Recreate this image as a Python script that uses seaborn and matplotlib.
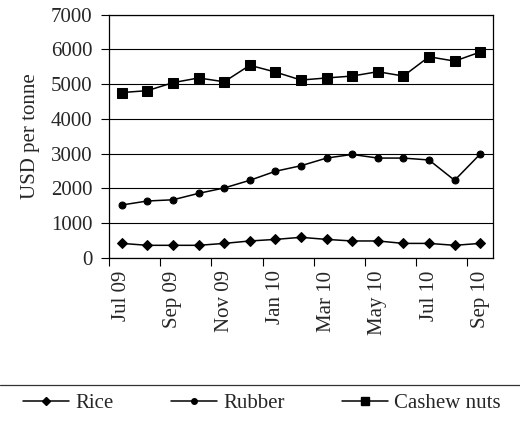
import numpy as np
import pandas as pd
import matplotlib
matplotlib.use("Agg")
import matplotlib.pyplot as plt
from matplotlib.lines import Line2D
import seaborn as sns

months = ["Jul 09", "Aug 09", "Sep 09", "Oct 09", "Nov 09", "Dec 09", "Jan 10",
          "Feb 10", "Mar 10", "Apr 10", "May 10", "Jun 10", "Jul 10", "Aug 10", "Sep 10"]
rice = [420, 365, 365, 365, 420, 490, 535, 595, 535, 490, 490, 420, 420, 365, 420]
rubber = [1525, 1640, 1675, 1860, 2015, 2235, 2495, 2655, 2875, 2980, 2875, 2875, 2820, 2235, 2990]
cashew = [4760, 4815, 5045, 5180, 5070, 5545, 5350, 5120, 5180, 5235, 5360, 5235, 5790, 5665, 5925]
series_names = ["Rice", "Rubber", "Cashew nuts"]
tick_labels = ["Jul 09", "Sep 09", "Nov 09", "Jan 10", "Mar 10", "May 10", "Jul 10", "Sep 10"]

df = pd.DataFrame({"month": months * 3,
                   "pos": list(range(len(months))) * 3,
                   "value": rice + rubber + cashew,
                   "series": [s for s in series_names for _ in months]})

sns.set_style("white")
plt.rcParams["font.family"] = ["Liberation Serif", "DejaVu Serif"]
plt.rcParams["font.size"] = 15

fig = plt.figure(figsize=(5.2, 4.23), dpi=100)
ax = fig.add_axes([109/520, 1-258/423, (493-109)/520, (258-14.7)/423])

markers = {"Rice": "D", "Rubber": "o", "Cashew nuts": "s"}
msizes = {"Rice": 5.5, "Rubber": 5, "Cashew nuts": 6.8}
handles = []
for name in series_names:
    sub = df[df["series"] == name]
    sns.lineplot(data=sub, x="pos", y="value", ax=ax, color="black", linewidth=1.1,
                 marker=markers[name], markersize=msizes[name], markeredgecolor="black",
                 markerfacecolor="black", legend=False)
    handles.append(Line2D([], [], color="black", linewidth=1.1, marker=markers[name],
                          markersize=msizes[name] - 1, label=name))

ax.set_xlim(-0.5, len(months) - 0.5)
ax.set_ylim(0, 7000)
ax.set_yticks(np.arange(0, 7001, 1000))
ax.yaxis.grid(True, color="black", linewidth=0.8)
ax.set_axisbelow(True)

ax.set_xticks(np.arange(-0.5, len(months) - 1, 2))
ax.set_xticklabels([])
tick_pos = [months.index(t) for t in tick_labels]
ax.set_xticks(tick_pos, minor=True)
ax.set_xticklabels(tick_labels, minor=True, rotation=90, fontsize=15)
ax.tick_params(axis="x", which="major", direction="out", length=6, width=0.8, color="black", bottom=True)
ax.tick_params(axis="x", which="minor", length=0, pad=9, bottom=True)
ax.tick_params(axis="y", direction="out", length=6, width=0.8, color="black", pad=6, labelsize=15, left=True)

ax.set_xlabel("")
ax.set_ylabel("USD per tonne", fontsize=15, labelpad=8)
for sp in ax.spines.values():
    sp.set_visible(True)
    sp.set_color("black")
    sp.set_linewidth(0.9)

fig.add_artist(Line2D([0, 1], [1-385/423, 1-385/423], transform=fig.transFigure,
                      color="#333333", linewidth=0.9))
fig.legend(handles=handles, loc="center", bbox_to_anchor=(0.504, 1-403/423), ncol=3,
           frameon=False, fontsize=15, handlelength=2.2, handletextpad=0.3,
           columnspacing=2.75, borderaxespad=0, borderpad=0)

fig.savefig("out.png", dpi=100)
